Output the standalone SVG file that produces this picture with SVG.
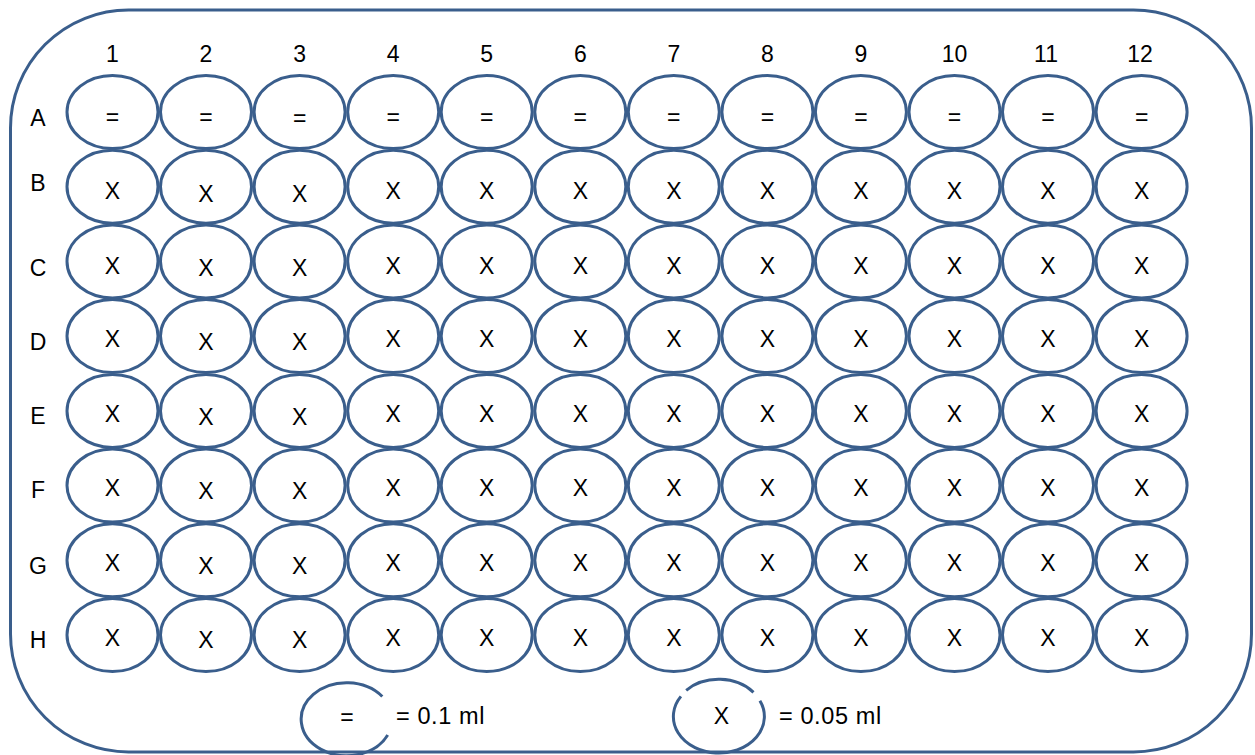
<svg xmlns="http://www.w3.org/2000/svg" width="1255" height="755" viewBox="0 0 1255 755">
<style>
.w{fill:none;stroke:#3a5e8c;stroke-width:3}
.t{font-family:"Liberation Sans",Arial,sans-serif;font-size:23px;fill:#000;text-anchor:middle}
.l{font-family:"Liberation Sans",Arial,sans-serif;font-size:23.5px;letter-spacing:0.6px;fill:#000}
</style>
<rect width="1255" height="755" fill="#fff"/>
<g id="plate"><rect class="w" x="10.5" y="10" width="1241" height="742" rx="118" ry="118"/></g>
<g id="col-labels">
<text class="t" x="112.5" y="61.5">1</text><text class="t" x="206" y="61.5">2</text><text class="t" x="299.6" y="61.5">3</text><text class="t" x="393.2" y="61.5">4</text><text class="t" x="486.7" y="61.5">5</text><text class="t" x="580.3" y="61.5">6</text><text class="t" x="673.8" y="61.5">7</text><text class="t" x="767.4" y="61.5">8</text><text class="t" x="860.9" y="61.5">9</text><text class="t" x="954.5" y="61.5">10</text><text class="t" x="1046" y="61.5">11</text><text class="t" x="1140" y="61.5">12</text>
</g>
<g id="row-labels">
<text class="t" x="38" y="126">A</text><text class="t" x="38" y="191">B</text><text class="t" x="38" y="276">C</text><text class="t" x="38" y="350">D</text><text class="t" x="38" y="424">E</text><text class="t" x="38" y="498">F</text><text class="t" x="38" y="574">G</text><text class="t" x="38" y="648">H</text>
</g>
<g id="row-A">
<g id="A1"><ellipse class="w" cx="112.5" cy="112" rx="45.5" ry="36.5"/><text class="t" x="112.5" y="125">=</text></g>
<g id="A2"><ellipse class="w" cx="206" cy="112" rx="45.5" ry="36.5"/><text class="t" x="206" y="125">=</text></g>
<g id="A3"><ellipse class="w" cx="299.6" cy="112" rx="45.5" ry="36.5"/><text class="t" x="299.6" y="126">=</text></g>
<g id="A4"><ellipse class="w" cx="393.2" cy="112" rx="45.5" ry="36.5"/><text class="t" x="393.2" y="125">=</text></g>
<g id="A5"><ellipse class="w" cx="486.7" cy="112" rx="45.5" ry="36.5"/><text class="t" x="486.7" y="125">=</text></g>
<g id="A6"><ellipse class="w" cx="580.3" cy="112" rx="45.5" ry="36.5"/><text class="t" x="580.3" y="125">=</text></g>
<g id="A7"><ellipse class="w" cx="673.8" cy="112" rx="45.5" ry="36.5"/><text class="t" x="673.8" y="125">=</text></g>
<g id="A8"><ellipse class="w" cx="767.4" cy="112" rx="45.5" ry="36.5"/><text class="t" x="767.4" y="125">=</text></g>
<g id="A9"><ellipse class="w" cx="860.9" cy="112" rx="45.5" ry="36.5"/><text class="t" x="860.9" y="125">=</text></g>
<g id="A10"><ellipse class="w" cx="954.5" cy="112" rx="45.5" ry="36.5"/><text class="t" x="954.5" y="125">=</text></g>
<g id="A11"><ellipse class="w" cx="1048" cy="112" rx="45.5" ry="36.5"/><text class="t" x="1048" y="125">=</text></g>
<g id="A12"><ellipse class="w" cx="1141.6" cy="112" rx="45.5" ry="36.5"/><text class="t" x="1141.6" y="125">=</text></g>
</g>
<g id="row-B">
<g id="B1"><ellipse class="w" cx="112.5" cy="186.7" rx="45.5" ry="36.5"/><text class="t" x="112.5" y="199">X</text></g>
<g id="B2"><ellipse class="w" cx="206" cy="186.7" rx="45.5" ry="36.5"/><text class="t" x="206" y="201.5">X</text></g>
<g id="B3"><ellipse class="w" cx="299.6" cy="186.7" rx="45.5" ry="36.5"/><text class="t" x="299.6" y="201.5">X</text></g>
<g id="B4"><ellipse class="w" cx="393.2" cy="186.7" rx="45.5" ry="36.5"/><text class="t" x="393.2" y="199">X</text></g>
<g id="B5"><ellipse class="w" cx="486.7" cy="186.7" rx="45.5" ry="36.5"/><text class="t" x="486.7" y="199">X</text></g>
<g id="B6"><ellipse class="w" cx="580.3" cy="186.7" rx="45.5" ry="36.5"/><text class="t" x="580.3" y="199">X</text></g>
<g id="B7"><ellipse class="w" cx="673.8" cy="186.7" rx="45.5" ry="36.5"/><text class="t" x="673.8" y="199">X</text></g>
<g id="B8"><ellipse class="w" cx="767.4" cy="186.7" rx="45.5" ry="36.5"/><text class="t" x="767.4" y="199">X</text></g>
<g id="B9"><ellipse class="w" cx="860.9" cy="186.7" rx="45.5" ry="36.5"/><text class="t" x="860.9" y="199">X</text></g>
<g id="B10"><ellipse class="w" cx="954.5" cy="186.7" rx="45.5" ry="36.5"/><text class="t" x="954.5" y="199">X</text></g>
<g id="B11"><ellipse class="w" cx="1048" cy="186.7" rx="45.5" ry="36.5"/><text class="t" x="1048" y="199">X</text></g>
<g id="B12"><ellipse class="w" cx="1141.6" cy="186.7" rx="45.5" ry="36.5"/><text class="t" x="1141.6" y="199">X</text></g>
</g>
<g id="row-C">
<g id="C1"><ellipse class="w" cx="112.5" cy="261.4" rx="45.5" ry="36.5"/><text class="t" x="112.5" y="273.5">X</text></g>
<g id="C2"><ellipse class="w" cx="206" cy="261.4" rx="45.5" ry="36.5"/><text class="t" x="206" y="276">X</text></g>
<g id="C3"><ellipse class="w" cx="299.6" cy="261.4" rx="45.5" ry="36.5"/><text class="t" x="299.6" y="276">X</text></g>
<g id="C4"><ellipse class="w" cx="393.2" cy="261.4" rx="45.5" ry="36.5"/><text class="t" x="393.2" y="273.5">X</text></g>
<g id="C5"><ellipse class="w" cx="486.7" cy="261.4" rx="45.5" ry="36.5"/><text class="t" x="486.7" y="273.5">X</text></g>
<g id="C6"><ellipse class="w" cx="580.3" cy="261.4" rx="45.5" ry="36.5"/><text class="t" x="580.3" y="273.5">X</text></g>
<g id="C7"><ellipse class="w" cx="673.8" cy="261.4" rx="45.5" ry="36.5"/><text class="t" x="673.8" y="273.5">X</text></g>
<g id="C8"><ellipse class="w" cx="767.4" cy="261.4" rx="45.5" ry="36.5"/><text class="t" x="767.4" y="273.5">X</text></g>
<g id="C9"><ellipse class="w" cx="860.9" cy="261.4" rx="45.5" ry="36.5"/><text class="t" x="860.9" y="273.5">X</text></g>
<g id="C10"><ellipse class="w" cx="954.5" cy="261.4" rx="45.5" ry="36.5"/><text class="t" x="954.5" y="273.5">X</text></g>
<g id="C11"><ellipse class="w" cx="1048" cy="261.4" rx="45.5" ry="36.5"/><text class="t" x="1048" y="273.5">X</text></g>
<g id="C12"><ellipse class="w" cx="1141.6" cy="261.4" rx="45.5" ry="36.5"/><text class="t" x="1141.6" y="273.5">X</text></g>
</g>
<g id="row-D">
<g id="D1"><ellipse class="w" cx="112.5" cy="336.1" rx="45.5" ry="36.5"/><text class="t" x="112.5" y="347">X</text></g>
<g id="D2"><ellipse class="w" cx="206" cy="336.1" rx="45.5" ry="36.5"/><text class="t" x="206" y="350">X</text></g>
<g id="D3"><ellipse class="w" cx="299.6" cy="336.1" rx="45.5" ry="36.5"/><text class="t" x="299.6" y="350">X</text></g>
<g id="D4"><ellipse class="w" cx="393.2" cy="336.1" rx="45.5" ry="36.5"/><text class="t" x="393.2" y="347">X</text></g>
<g id="D5"><ellipse class="w" cx="486.7" cy="336.1" rx="45.5" ry="36.5"/><text class="t" x="486.7" y="347">X</text></g>
<g id="D6"><ellipse class="w" cx="580.3" cy="336.1" rx="45.5" ry="36.5"/><text class="t" x="580.3" y="347">X</text></g>
<g id="D7"><ellipse class="w" cx="673.8" cy="336.1" rx="45.5" ry="36.5"/><text class="t" x="673.8" y="347">X</text></g>
<g id="D8"><ellipse class="w" cx="767.4" cy="336.1" rx="45.5" ry="36.5"/><text class="t" x="767.4" y="347">X</text></g>
<g id="D9"><ellipse class="w" cx="860.9" cy="336.1" rx="45.5" ry="36.5"/><text class="t" x="860.9" y="347">X</text></g>
<g id="D10"><ellipse class="w" cx="954.5" cy="336.1" rx="45.5" ry="36.5"/><text class="t" x="954.5" y="347">X</text></g>
<g id="D11"><ellipse class="w" cx="1048" cy="336.1" rx="45.5" ry="36.5"/><text class="t" x="1048" y="347">X</text></g>
<g id="D12"><ellipse class="w" cx="1141.6" cy="336.1" rx="45.5" ry="36.5"/><text class="t" x="1141.6" y="347">X</text></g>
</g>
<g id="row-E">
<g id="E1"><ellipse class="w" cx="112.5" cy="410.9" rx="45.5" ry="36.5"/><text class="t" x="112.5" y="421.5">X</text></g>
<g id="E2"><ellipse class="w" cx="206" cy="410.9" rx="45.5" ry="36.5"/><text class="t" x="206" y="424.5">X</text></g>
<g id="E3"><ellipse class="w" cx="299.6" cy="410.9" rx="45.5" ry="36.5"/><text class="t" x="299.6" y="424.5">X</text></g>
<g id="E4"><ellipse class="w" cx="393.2" cy="410.9" rx="45.5" ry="36.5"/><text class="t" x="393.2" y="421.5">X</text></g>
<g id="E5"><ellipse class="w" cx="486.7" cy="410.9" rx="45.5" ry="36.5"/><text class="t" x="486.7" y="421.5">X</text></g>
<g id="E6"><ellipse class="w" cx="580.3" cy="410.9" rx="45.5" ry="36.5"/><text class="t" x="580.3" y="421.5">X</text></g>
<g id="E7"><ellipse class="w" cx="673.8" cy="410.9" rx="45.5" ry="36.5"/><text class="t" x="673.8" y="421.5">X</text></g>
<g id="E8"><ellipse class="w" cx="767.4" cy="410.9" rx="45.5" ry="36.5"/><text class="t" x="767.4" y="421.5">X</text></g>
<g id="E9"><ellipse class="w" cx="860.9" cy="410.9" rx="45.5" ry="36.5"/><text class="t" x="860.9" y="421.5">X</text></g>
<g id="E10"><ellipse class="w" cx="954.5" cy="410.9" rx="45.5" ry="36.5"/><text class="t" x="954.5" y="421.5">X</text></g>
<g id="E11"><ellipse class="w" cx="1048" cy="410.9" rx="45.5" ry="36.5"/><text class="t" x="1048" y="421.5">X</text></g>
<g id="E12"><ellipse class="w" cx="1141.6" cy="410.9" rx="45.5" ry="36.5"/><text class="t" x="1141.6" y="421.5">X</text></g>
</g>
<g id="row-F">
<g id="F1"><ellipse class="w" cx="112.5" cy="485.6" rx="45.5" ry="36.5"/><text class="t" x="112.5" y="496">X</text></g>
<g id="F2"><ellipse class="w" cx="206" cy="485.6" rx="45.5" ry="36.5"/><text class="t" x="206" y="499">X</text></g>
<g id="F3"><ellipse class="w" cx="299.6" cy="485.6" rx="45.5" ry="36.5"/><text class="t" x="299.6" y="499">X</text></g>
<g id="F4"><ellipse class="w" cx="393.2" cy="485.6" rx="45.5" ry="36.5"/><text class="t" x="393.2" y="496">X</text></g>
<g id="F5"><ellipse class="w" cx="486.7" cy="485.6" rx="45.5" ry="36.5"/><text class="t" x="486.7" y="496">X</text></g>
<g id="F6"><ellipse class="w" cx="580.3" cy="485.6" rx="45.5" ry="36.5"/><text class="t" x="580.3" y="496">X</text></g>
<g id="F7"><ellipse class="w" cx="673.8" cy="485.6" rx="45.5" ry="36.5"/><text class="t" x="673.8" y="496">X</text></g>
<g id="F8"><ellipse class="w" cx="767.4" cy="485.6" rx="45.5" ry="36.5"/><text class="t" x="767.4" y="496">X</text></g>
<g id="F9"><ellipse class="w" cx="860.9" cy="485.6" rx="45.5" ry="36.5"/><text class="t" x="860.9" y="496">X</text></g>
<g id="F10"><ellipse class="w" cx="954.5" cy="485.6" rx="45.5" ry="36.5"/><text class="t" x="954.5" y="496">X</text></g>
<g id="F11"><ellipse class="w" cx="1048" cy="485.6" rx="45.5" ry="36.5"/><text class="t" x="1048" y="496">X</text></g>
<g id="F12"><ellipse class="w" cx="1141.6" cy="485.6" rx="45.5" ry="36.5"/><text class="t" x="1141.6" y="496">X</text></g>
</g>
<g id="row-G">
<g id="G1"><ellipse class="w" cx="112.5" cy="560.3" rx="45.5" ry="36.5"/><text class="t" x="112.5" y="571">X</text></g>
<g id="G2"><ellipse class="w" cx="206" cy="560.3" rx="45.5" ry="36.5"/><text class="t" x="206" y="574">X</text></g>
<g id="G3"><ellipse class="w" cx="299.6" cy="560.3" rx="45.5" ry="36.5"/><text class="t" x="299.6" y="574">X</text></g>
<g id="G4"><ellipse class="w" cx="393.2" cy="560.3" rx="45.5" ry="36.5"/><text class="t" x="393.2" y="571">X</text></g>
<g id="G5"><ellipse class="w" cx="486.7" cy="560.3" rx="45.5" ry="36.5"/><text class="t" x="486.7" y="571">X</text></g>
<g id="G6"><ellipse class="w" cx="580.3" cy="560.3" rx="45.5" ry="36.5"/><text class="t" x="580.3" y="571">X</text></g>
<g id="G7"><ellipse class="w" cx="673.8" cy="560.3" rx="45.5" ry="36.5"/><text class="t" x="673.8" y="571">X</text></g>
<g id="G8"><ellipse class="w" cx="767.4" cy="560.3" rx="45.5" ry="36.5"/><text class="t" x="767.4" y="571">X</text></g>
<g id="G9"><ellipse class="w" cx="860.9" cy="560.3" rx="45.5" ry="36.5"/><text class="t" x="860.9" y="571">X</text></g>
<g id="G10"><ellipse class="w" cx="954.5" cy="560.3" rx="45.5" ry="36.5"/><text class="t" x="954.5" y="571">X</text></g>
<g id="G11"><ellipse class="w" cx="1048" cy="560.3" rx="45.5" ry="36.5"/><text class="t" x="1048" y="571">X</text></g>
<g id="G12"><ellipse class="w" cx="1141.6" cy="560.3" rx="45.5" ry="36.5"/><text class="t" x="1141.6" y="571">X</text></g>
</g>
<g id="row-H">
<g id="H1"><ellipse class="w" cx="112.5" cy="635" rx="45.5" ry="36.5"/><text class="t" x="112.5" y="645.5">X</text></g>
<g id="H2"><ellipse class="w" cx="206" cy="635" rx="45.5" ry="36.5"/><text class="t" x="206" y="648">X</text></g>
<g id="H3"><ellipse class="w" cx="299.6" cy="635" rx="45.5" ry="36.5"/><text class="t" x="299.6" y="648">X</text></g>
<g id="H4"><ellipse class="w" cx="393.2" cy="635" rx="45.5" ry="36.5"/><text class="t" x="393.2" y="645.5">X</text></g>
<g id="H5"><ellipse class="w" cx="486.7" cy="635" rx="45.5" ry="36.5"/><text class="t" x="486.7" y="645.5">X</text></g>
<g id="H6"><ellipse class="w" cx="580.3" cy="635" rx="45.5" ry="36.5"/><text class="t" x="580.3" y="645.5">X</text></g>
<g id="H7"><ellipse class="w" cx="673.8" cy="635" rx="45.5" ry="36.5"/><text class="t" x="673.8" y="645.5">X</text></g>
<g id="H8"><ellipse class="w" cx="767.4" cy="635" rx="45.5" ry="36.5"/><text class="t" x="767.4" y="645.5">X</text></g>
<g id="H9"><ellipse class="w" cx="860.9" cy="635" rx="45.5" ry="36.5"/><text class="t" x="860.9" y="645.5">X</text></g>
<g id="H10"><ellipse class="w" cx="954.5" cy="635" rx="45.5" ry="36.5"/><text class="t" x="954.5" y="645.5">X</text></g>
<g id="H11"><ellipse class="w" cx="1048" cy="635" rx="45.5" ry="36.5"/><text class="t" x="1048" y="645.5">X</text></g>
<g id="H12"><ellipse class="w" cx="1141.6" cy="635" rx="45.5" ry="36.5"/><text class="t" x="1141.6" y="645.5">X</text></g>
</g>
<g id="legend-eq">
<path class="w" d="M 382.3 696.5 A 45.5 36.5 0 1 0 387.7 735"/>
<text class="t" x="347" y="725">=</text>
<text class="l" x="396" y="724">= 0.1 ml</text>
</g>
<g id="legend-x">
<path class="w" d="M 686.2 690.3 A 45.5 36.5 0 0 1 753.5 692.3"/>
<path class="w" d="M 759.9 700.7 A 45.5 36.5 0 1 1 680.9 696.4"/>
<text class="t" x="721.5" y="724">X</text>
<text class="l" x="779" y="724">= 0.05 ml</text>
</g>
</svg>
